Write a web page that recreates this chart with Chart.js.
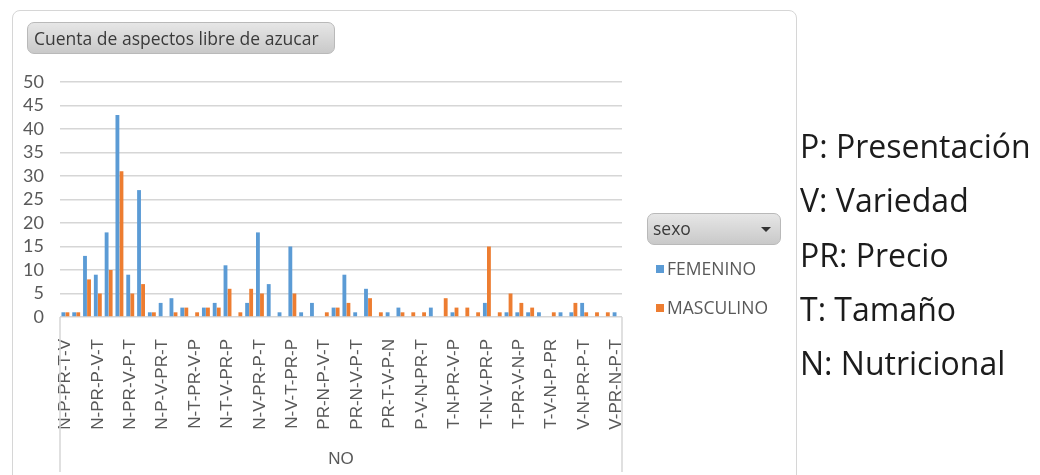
<!DOCTYPE html>
<html lang="es">
<head>
<meta charset="utf-8">
<title>Cuenta de aspectos libre de azucar</title>
<script src="https://cdn.jsdelivr.net/npm/chart.js@4.4.1/dist/chart.umd.min.js"></script>
<style>
  html, body { margin: 0; padding: 0; background: #ffffff; }
  body { width: 1040px; height: 475px; position: relative; overflow: hidden; font-family: "Open Sans", sans-serif; }
  #wrap { position: absolute; left: 0; top: 0; width: 1040px; height: 475px; }
  .frame { position: absolute; left: 12px; top: 10px; width: 785px; height: 490px;
           border: 1.5px solid #d6d6d6; border-radius: 8px; box-sizing: border-box; }
  .btn { position: absolute; border: 1px solid #b9b9b9; border-radius: 7px;
         background: linear-gradient(#e6e6e6, #c9c9c9); box-sizing: border-box; color: #3a3a3a; }
  #title { left: 27px; top: 22px; width: 308px; height: 32px; font-size: 17.5px; line-height: 30px; padding-left: 6px; white-space: nowrap; }
  #sexo { left: 647px; top: 213px; width: 134px; height: 32px; font-size: 17.5px; line-height: 29px; padding-left: 5px; }
  #sexo .arrow { position: absolute; right: 9px; top: 13px; width: 0; height: 0;
                 border-left: 5px solid transparent; border-right: 5px solid transparent; border-top: 5px solid #333; }
  .item { position: absolute; left: 656px; font-size: 17.5px; color: #595959; line-height: 20px; height: 20px; white-space: nowrap; }
  .item i { display: inline-block; width: 8px; height: 8px; margin-right: 3px; vertical-align: 2px; }
  #key { position: absolute; left: 800px; top: 119px; font-size: 32px; line-height: 54.3px; color: #1c1c1c; white-space: nowrap; }
</style>
</head>
<body>
<div class="frame"></div>
<div id="wrap"><canvas id="chart"></canvas></div>
<div id="title" class="btn">Cuenta de aspectos libre de azucar</div>
<div id="sexo" class="btn">sexo<span class="arrow"></span></div>
<div id="legend"></div>
<div id="key"></div>
<script>
// Orden de aspectos (combinaciones); el eje rotula una de cada tres
const categories = [
  "N-P-PR-T-V", "", "",
  "N-PR-P-V-T", "", "",
  "N-PR-V-P-T", "", "",
  "N-P-V-PR-T", "", "",
  "N-T-PR-V-P", "", "",
  "N-T-V-PR-P", "", "",
  "N-V-PR-P-T", "", "",
  "N-V-T-PR-P", "", "",
  "PR-N-P-V-T", "", "",
  "PR-N-V-P-T", "", "",
  "PR-T-V-P-N", "", "",
  "P-V-N-PR-T", "", "",
  "T-N-PR-V-P", "", "",
  "T-N-V-PR-P", "", "",
  "T-PR-V-N-P", "", "",
  "T-V-N-P-PR", "", "",
  "V-N-PR-P-T", "", "",
  "V-PR-N-P-T"
];

const femenino = [1, 1, 13, 9, 18, 43, 9, 27, 1, 3,
                  4, 2, 0, 2, 3, 11, 0, 3, 18, 7,
                  1, 15, 1, 3, 0, 2, 9, 1, 6, 0,
                  1, 2, 0, 0, 2, 0, 1, 0, 0, 3,
                  0, 1, 1, 1, 1, 0, 1, 1, 3, 0,
                  0, 1];

const masculino = [1, 1, 8, 5, 10, 31, 5, 7, 1, 0,
                   1, 2, 1, 2, 2, 6, 1, 6, 5, 0,
                   0, 5, 0, 0, 1, 2, 3, 0, 4, 1,
                   0, 1, 1, 1, 0, 4, 2, 2, 1, 15,
                   1, 5, 3, 2, 0, 1, 0, 3, 1, 1,
                   1, 0];

const yTicks = [0, 5, 10, 15, 20, 25, 30, 35, 40, 45, 50];

const seriesNames = ["FEMENINO", "MASCULINO"];
const seriesColors = ["#5b9bd5", "#ed7d31"];

const keyLines = ["P: Presentación", "V: Variedad", "PR: Precio", "T: Tamaño", "N: Nutricional"];

// Leyenda de la serie "sexo"
const legendBox = document.getElementById("legend");
const legendTops = [258, 297];
seriesNames.forEach((name, i) => {
  const d = document.createElement("div");
  d.className = "item";
  d.style.top = legendTops[i] + "px";
  d.innerHTML = '<i style="background:' + seriesColors[i] + '"></i>' + name;
  legendBox.appendChild(d);
});

// Clave de abreviaturas
document.getElementById("key").innerHTML = keyLines.join("<br>");

// Líneas verticales que enmarcan la zona de etiquetas del eje X
const groupLines = {
  id: "groupLines",
  afterDraw(chart) {
    const { ctx, chartArea } = chart;
    ctx.save();
    ctx.strokeStyle = "#d6d6d6";
    ctx.lineWidth = 1.5;
    [chartArea.left, chartArea.right].forEach(x => {
      ctx.beginPath();
      ctx.moveTo(x, chartArea.bottom);
      ctx.lineTo(x, 472);
      ctx.stroke();
    });
    ctx.restore();
  }
};

new Chart(document.getElementById("chart"), {
  type: "bar",
  data: {
    labels: categories,
    datasets: [
      { label: seriesNames[0], data: femenino, backgroundColor: seriesColors[0] },
      { label: seriesNames[1], data: masculino, backgroundColor: seriesColors[1] }
    ]
  },
  options: {
    responsive: true,
    maintainAspectRatio: false,
    animation: false,
    layout: { padding: { left: 0, top: 82, right: 418, bottom: 0 } },
    plugins: { legend: { display: false }, tooltip: { enabled: false } },
    datasets: { bar: { categoryPercentage: 0.75, barPercentage: 0.95 } },
    scales: {
      x: {
        grid: { display: false, drawTicks: false },
        border: { display: false },
        ticks: {
          autoSkip: false,
          maxRotation: 90,
          minRotation: 90,
          padding: 22,
          color: "#595959",
          font: { family: "Liberation Sans", size: 17 }
        },
        title: {
          display: true,
          text: "NO",
          color: "#595959",
          font: { family: "Liberation Sans", size: 17 },
          padding: { top: 0, bottom: 5 }
        },
        afterFit(scale) { scale.height = 158; }
      },
      y: {
        min: 0,
        max: 50,
        afterBuildTicks(scale) { scale.ticks = yTicks.map(v => ({ value: v })); },
        grid: { color: "#d6d6d6", lineWidth: 1.5, drawTicks: false },
        border: { display: false },
        ticks: {
          autoSkip: false,
          padding: 16,
          color: "#595959",
          font: { family: "Lato", size: 18 }
        },
        afterFit(scale) { scale.width = 60; }
      }
    }
  },
  plugins: [groupLines]
});
</script>
</body>
</html>
